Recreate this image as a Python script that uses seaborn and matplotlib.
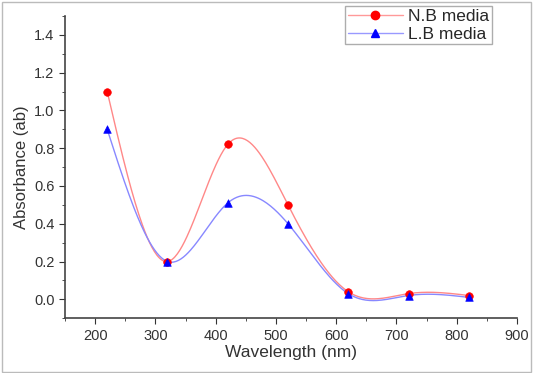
import numpy as np
import pandas as pd
import matplotlib.pyplot as plt
import seaborn as sns
from matplotlib.lines import Line2D

# Données
wavelength = [220, 320, 420, 520, 620, 720, 820]
nb_media = [1.10, 0.20, 0.82, 0.50, 0.04, 0.03, 0.02]
lb_media = [0.90, 0.20, 0.51, 0.40, 0.03, 0.02, 0.01]


def natural_spline(x, y, n=300):
    # spline cubique naturelle pour la courbe lissée (comme Origin)
    x = np.asarray(x, float)
    y = np.asarray(y, float)
    k = len(x)
    h = np.diff(x)
    A = np.zeros((k, k))
    b = np.zeros(k)
    A[0, 0] = A[-1, -1] = 1
    for i in range(1, k - 1):
        A[i, i - 1] = h[i - 1]
        A[i, i] = 2 * (h[i - 1] + h[i])
        A[i, i + 1] = h[i]
        b[i] = 6 * ((y[i + 1] - y[i]) / h[i] - (y[i] - y[i - 1]) / h[i - 1])
    M = np.linalg.solve(A, b)
    xs = np.linspace(x[0], x[-1], n)
    idx = np.clip(np.searchsorted(x, xs) - 1, 0, k - 2)
    x0, x1 = x[idx], x[idx + 1]
    hh = x1 - x0
    ys = (M[idx] * (x1 - xs) ** 3 / (6 * hh) + M[idx + 1] * (xs - x0) ** 3 / (6 * hh)
          + (y[idx] / hh - M[idx] * hh / 6) * (x1 - xs)
          + (y[idx + 1] / hh - M[idx + 1] * hh / 6) * (xs - x0))
    return xs, ys


sns.set_style('ticks')
plt.rcParams['font.family'] = ['Liberation Sans', 'DejaVu Sans']

fig = plt.figure(figsize=(5.33, 3.73), dpi=100)
ax = fig.add_axes([0.122, 0.147, 0.848, 0.81])

xs, ys_nb = natural_spline(wavelength, nb_media)
_, ys_lb = natural_spline(wavelength, lb_media)
courbes = pd.DataFrame({'x': xs, 'nb': ys_nb, 'lb': ys_lb})
points = pd.DataFrame({'x': wavelength, 'nb': nb_media, 'lb': lb_media})

sns.lineplot(data=courbes, x='x', y='nb', ax=ax, color='#ff8888', lw=1)
sns.lineplot(data=courbes, x='x', y='lb', ax=ax, color='#8888ff', lw=1)
sns.scatterplot(data=points, x='x', y='nb', ax=ax, color='red', marker='o', s=30,
                edgecolor='red', zorder=5)
sns.scatterplot(data=points, x='x', y='lb', ax=ax, color='blue', marker='^', s=30,
                edgecolor='blue', zorder=5)

ax.set_xlim(150, 900)
ax.set_ylim(-0.1, 1.5)
ax.set_xticks(range(200, 901, 100))
ax.set_yticks(np.arange(0, 1.41, 0.2))
ax.set_yticklabels([f'{v:.1f}' for v in np.arange(0, 1.41, 0.2)])
ax.set_xticks(range(150, 901, 50), minor=True)
ax.set_yticks(np.arange(-0.1, 1.51, 0.1), minor=True)
ax.tick_params(which='both', direction='out', color='#333333', labelsize=10.5,
               labelcolor='#333333')
ax.tick_params(which='major', length=4)
ax.tick_params(which='minor', length=2)
sns.despine(ax=ax)
for s in ['left', 'bottom']:
    ax.spines[s].set_color('#444444')
    ax.spines[s].set_linewidth(1.2)

ax.set_xlabel('Wavelength (nm)', fontsize=12.5, color='#333333', labelpad=2)
ax.set_ylabel('Absorbance (ab)', fontsize=12, color='#333333', labelpad=4)

handles = [Line2D([], [], color='#ff9999', lw=1, marker='o', mfc='red', mec='red', ms=6),
           Line2D([], [], color='#9999ff', lw=1, marker='^', mfc='blue', mec='blue', ms=6)]
leg = ax.legend(handles, ['N.B media', 'L.B media'], loc='upper right',
                bbox_to_anchor=(0.945, 1.033), fontsize=12.5, frameon=True, fancybox=False,
                borderpad=0.15, labelspacing=0.15, handlelength=3.2, handletextpad=0.3,
                borderaxespad=0, edgecolor='#999999')
leg.get_frame().set_linewidth(1)

fig.patches.append(plt.Rectangle((0.004, 0.004), 0.992, 0.99, transform=fig.transFigure,
                                 fill=False, edgecolor='#bbbbbb', lw=1))

fig.savefig('out.png', dpi=100)
